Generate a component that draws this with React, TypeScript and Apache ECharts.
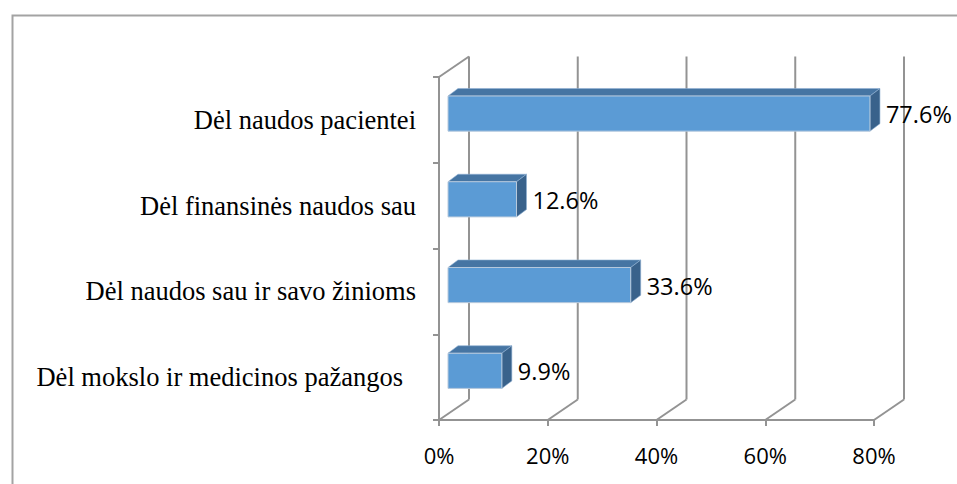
import React, { useEffect, useRef } from 'react';
import * as echarts from 'echarts';

const categories = [
  'Dėl naudos pacientei',
  'Dėl finansinės naudos sau',
  'Dėl naudos sau ir savo žinioms',
  'Dėl mokslo ir medicinos pažangos',
];
const values = [77.6, 12.6, 33.6, 9.9];
const xTicks = [0, 20, 40, 60, 80];
const xMin = 0;
const xMax = 80;
const xInterval = 20;

export default function App() {
  const ref = useRef<HTMLDivElement>(null);
  useEffect(() => {
    const chart = echarts.init(ref.current!, null, { renderer: 'svg' });
    const GRID = '#939393';
    const DX = 30;
    const DY = -20.5;
    const FRONT = '#5b9bd5';
    const TOP = '#4675a3';
    const SIDE = '#39628b';
    const option: any = {
      animation: false,
      backgroundColor: '#ffffff',
      grid: {
        left: 439,
        top: 77,
        width: 435,
        height: 343,
        containLabel: false,
        outerBoundsMode: 'none',
      },
      graphic: [
        {
          type: 'rect',
          left: 10,
          top: 13,
          shape: { x: 0, y: 0, width: 1000, height: 520 },
          style: { fill: 'none', stroke: '#a3a3a3', lineWidth: 2 },
          silent: true,
        },
      ],
      xAxis: {
        type: 'value',
        min: xMin,
        max: xMax,
        interval: xInterval,
        axisLine: { show: true, lineStyle: { color: GRID, width: 2 } },
        axisTick: { show: true, length: 6, lineStyle: { color: GRID, width: 2 } },
        splitLine: { show: false },
        axisLabel: {
          formatter: '{value}%',
          color: '#000',
          fontFamily: 'Open Sans',
          fontSize: 22,
          margin: 35,
          verticalAlign: 'middle',
        },
      },
      yAxis: {
        type: 'category',
        data: categories,
        inverse: true,
        axisLine: { show: true, lineStyle: { color: GRID, width: 2 } },
        axisTick: { show: true, length: 6, lineStyle: { color: GRID, width: 2 } },
        splitLine: { show: false },
        axisLabel: {
          color: '#000',
          fontFamily: 'Liberation Serif',
          fontSize: 26.5,
          margin: 23,
          formatter: (val: string, idx: number) => (idx === 3 ? `{p|${val}}` : val),
          rich: {
            p: {
              padding: [0, 13, 0, 0],
              color: '#000',
              fontFamily: 'Liberation Serif',
              fontSize: 26.5,
            },
          },
        },
      },
      series: [
        {
          type: 'custom',
          coordinateSystem: 'cartesian2d',
          clip: false,
          silent: true,
          z: 1,
          data: xTicks.map((v) => [v, 0]),
          encode: { x: 0, y: 1 },
          renderItem: (params: any, api: any) => {
            const v = api.value(0);
            const x = api.coord([v, 0])[0];
            const cs = params.coordSys;
            const top = cs.y;
            const bottom = cs.y + cs.height;
            const st = { stroke: GRID, lineWidth: 2 };
            const children: any[] = [
              { type: 'line', shape: { x1: x + DX, y1: top + DY, x2: x + DX, y2: bottom + DY }, style: st },
              { type: 'line', shape: { x1: x, y1: bottom, x2: x + DX, y2: bottom + DY }, style: st },
            ];
            if (v === xMin) {
              children.push({ type: 'line', shape: { x1: x, y1: top, x2: x + DX, y2: top + DY }, style: st });
            }
            return { type: 'group', children };
          },
        },
        {
          type: 'custom',
          coordinateSystem: 'cartesian2d',
          clip: false,
          silent: true,
          z: 3,
          data: values.map((v, i) => [v, i]),
          encode: { x: 0, y: 1 },
          renderItem: (params: any, api: any) => {
            const v = api.value(0);
            const idx = api.value(1);
            const p0 = api.coord([0, idx]);
            const p1 = api.coord([v, idx]);
            const band = api.size([0, 1])[1];
            const h = band * 0.41;
            const fx = 9;
            const fy = -6.3;
            const bx = 10;
            const by = -7.5;
            const xl = p0[0] + fx;
            const xr = p1[0] + fx;
            const yt = p0[1] + fy - h / 2;
            const yb = yt + h;
            return {
              type: 'group',
              children: [
                {
                  type: 'polygon',
                  shape: { points: [[xl, yt], [xr, yt], [xr + bx, yt + by], [xl + bx, yt + by]] },
                  style: { fill: TOP, stroke: '#8fb0d3', lineWidth: 0.6 },
                },
                {
                  type: 'polygon',
                  shape: { points: [[xr, yt], [xr + bx, yt + by], [xr + bx, yb + by], [xr, yb]] },
                  style: { fill: SIDE, stroke: '#8fb0d3', lineWidth: 0.6 },
                },
                {
                  type: 'rect',
                  shape: { x: xl, y: yt, width: xr - xl, height: h },
                  style: { fill: FRONT, stroke: '#b7c9dc', lineWidth: 1 },
                },
                {
                  type: 'text',
                  style: {
                    text: v.toFixed(1) + '%',
                    x: xr + bx + 6,
                    y: p0[1] + fy + 0.5,
                    fill: '#000',
                    fontFamily: 'Open Sans',
                    fontSize: 23.5,
                    align: 'left',
                    verticalAlign: 'middle',
                  },
                },
              ],
            };
          },
        },
      ],
    };
    chart.setOption(option);
    return () => chart.dispose();
  }, []);
  return (
    <div
      ref={ref}
      style={{ position: 'fixed', left: 0, top: 0, width: 957, height: 484, background: '#fff' }}
    />
  );
}
